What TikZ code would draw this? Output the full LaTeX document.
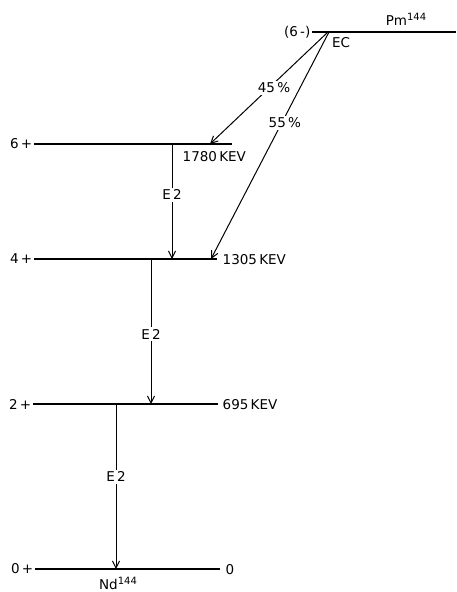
\documentclass[tikz,border=0pt]{standalone}
\usepackage{fontspec}
\setmainfont{DejaVu Sans}
\usetikzlibrary{arrows.meta}
\newcommand{\isosup}[1]{\raisebox{5pt}{\fontsize{10}{11}\selectfont #1}}
\begin{document}
\begin{tikzpicture}[x=1pt,y=-1pt,
  level/.style={line width=1.2pt},
  trans/.style={line width=1pt,-{Straight Barb[length=7pt,width=7pt,line width=1pt]}},
  lbl/.style={font=\fontsize{13.5}{15}\selectfont,inner sep=1.5pt},
  gaplbl/.style={lbl,fill=white,inner sep=2pt}]
\useasboundingbox (0,0) rectangle (456,592);
% levels
\coordinate (pmL) at (312,32); \coordinate (pmR) at (456,32);
\coordinate (ec) at (328,32);
\coordinate (s6a) at (34,144); \coordinate (s6b) at (232,144);
\coordinate (s4a) at (34,259); \coordinate (s4b) at (217,259);
\coordinate (s2a) at (33,404); \coordinate (s2b) at (218,404);
\coordinate (s0a) at (35,569); \coordinate (s0b) at (220,569);
\draw[level] (pmL) -- (pmR);
\draw[level] (s6a) -- (s6b);
\draw[level] (s4a) -- (s4b);
\draw[level] (s2a) -- (s2b);
\draw[level] (s0a) -- (s0b);
% labels
\node[lbl,anchor=east] (lpm) at (pmL) {(6\,-)};
\node[lbl] (ecl) at (341,43) {EC};
\node[lbl] (pm) at (406,19) {Pm\isosup{144}};
\node[lbl,anchor=east] (j6) at (s6a) {6\,+};
\node[lbl,anchor=east] (j4) at (s4a) {4\,+};
\node[lbl,anchor=east] (j2) at (s2a) {2\,+};
\node[lbl,anchor=east] (j0) at (s0a) {0\,+};
\node[lbl,anchor=west] (e6) at (181,157) {1780\,KEV};
\node[lbl,anchor=west] (e4) at (221,260) {1305\,KEV};
\node[lbl,anchor=west] (e2) at (221,405) {695\,KEV};
\node[lbl,anchor=west] (e0) at (224,570) {0};
\node[lbl] (nd) at (118,583) {Nd\isosup{144}};
% transition end points
\coordinate (t45) at (210,144);
\coordinate (t55) at (211,259);
\coordinate (g6top) at (172,144); \coordinate (g6bot) at (172,259);
\coordinate (g4top) at (151,259); \coordinate (g4bot) at (151,404);
\coordinate (g2top) at (116,404); \coordinate (g2bot) at (116,569);
% EC branches
\draw[trans] (ec) -- node[gaplbl,pos=0.5,xshift=5pt] {45\,\%} (t45);
\draw[trans] ([xshift=1pt]ec) -- node[gaplbl,pos=0.40,xshift=3pt] {55\,\%} (t55);
% gamma transitions
\draw[trans] (g6top) -- node[gaplbl,pos=0.44] {E\,2} (g6bot);
\draw[trans] (g4top) -- node[gaplbl,pos=0.52] {E\,2} (g4bot);
\draw[trans] (g2top) -- node[gaplbl,pos=0.44] {E\,2} (g2bot);
\end{tikzpicture}
\end{document}
